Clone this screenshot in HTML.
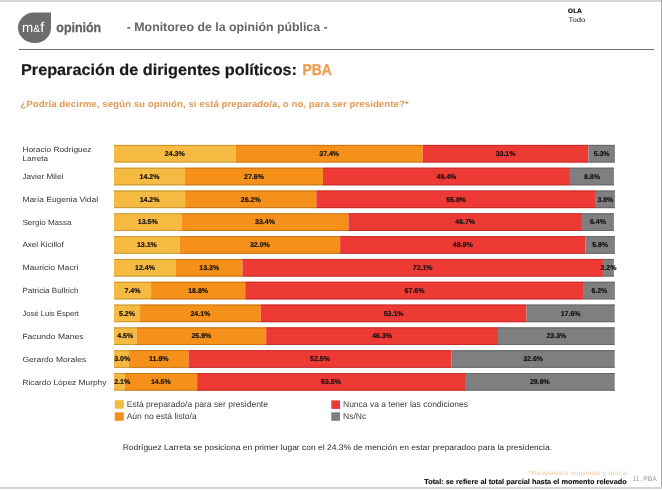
<!DOCTYPE html>
<html><head><meta charset="utf-8"><style>
html,body{margin:0;padding:0;background:#fff;}
body{width:662px;height:491px;overflow:hidden;}
svg{display:block;}
text{font-family:"Liberation Sans",sans-serif;text-rendering:geometricPrecision;}
.n{font-size:7.5px;fill:#363636;}
.d{font-size:7px;font-weight:bold;fill:#141010;stroke:#141010;stroke-width:0.18px;text-anchor:middle;}
.lg{font-size:8.5px;fill:#404040;}
</style></head><body>
<svg width="662" height="491" viewBox="0 0 662 491">
<rect x="0" y="0" width="662" height="491" fill="#fff"/>
<rect x="0" y="0" width="662" height="2" fill="#d6d6d6"/>
<rect x="661" y="0" width="1" height="489" fill="#ababab"/>
<rect x="0" y="487" width="662" height="2" fill="#d4d4d4"/>
<path d="M51,12.5 V27.75 A15.25,15.25 0 0 1 35.75,43 H34.5 A16.5,15.25 0 0 1 18,27.75 A16.5,15.25 0 0 1 34.5,12.5 Z" fill="#6d6d6f"/>
<text y="32.3" font-size="13.4" fill="#fff"><tspan x="21.9">m</tspan><tspan x="33.2" y="32.3" font-size="10.2">&amp;</tspan><tspan x="40.3" y="32.3" font-size="14.2">f</tspan></text>
<text x="56.3" y="32.1" font-size="13.6" font-weight="bold" fill="#636365" stroke="#636365" stroke-width="0.3" textLength="44.9" lengthAdjust="spacingAndGlyphs">opinión</text>
<text x="126.8" y="30.9" font-size="12.2" font-weight="bold" fill="#666" textLength="200.8" lengthAdjust="spacingAndGlyphs">- Monitoreo de la opinión pública -</text>
<text x="567.7" y="12.8" font-size="6.2" font-weight="bold" fill="#111" style="font-family:'DejaVu Sans',sans-serif" textLength="14.2" lengthAdjust="spacingAndGlyphs">OLA</text>
<text x="568.6" y="21.6" font-size="6.6" fill="#222" textLength="16.8" lengthAdjust="spacingAndGlyphs">Todo</text>
<rect x="19" y="49" width="635" height="1" fill="#6f6f6f"/>
<text x="21" y="74.9" font-size="15.7" font-weight="bold" fill="#1a1a1a" stroke="#1a1a1a" stroke-width="0.2" textLength="276" lengthAdjust="spacingAndGlyphs">Preparación de dirigentes políticos:</text>
<text x="302.6" y="74.9" font-size="15.7" font-weight="bold" fill="#EC9C4C" stroke="#EC9C4C" stroke-width="0.25" textLength="29.2" lengthAdjust="spacingAndGlyphs">PBA</text>
<text x="20.3" y="106.7" font-size="9.1" font-weight="bold" fill="#E29A55" textLength="388.4" lengthAdjust="spacingAndGlyphs">¿Podría decirme, según su opinión, si está preparado/a, o no, para ser presidente?*</text>
<rect x="114.00" y="144.90" width="121.60" height="17.6" fill="#F5BA42"/>
<rect x="114.00" y="144.90" width="121.60" height="1" fill="#c89836"/>
<rect x="114.00" y="161.50" width="121.60" height="1" fill="#c89836"/>
<rect x="235.60" y="144.90" width="187.15" height="17.6" fill="#F5911A"/>
<rect x="235.60" y="144.90" width="187.15" height="1" fill="#c87615"/>
<rect x="235.60" y="161.50" width="187.15" height="1" fill="#c87615"/>
<rect x="422.75" y="144.90" width="165.63" height="17.6" fill="#EE3A35"/>
<rect x="422.75" y="144.90" width="165.63" height="1" fill="#c32f2b"/>
<rect x="422.75" y="161.50" width="165.63" height="1" fill="#c32f2b"/>
<rect x="588.38" y="144.90" width="26.52" height="17.6" fill="#7F7F7F"/>
<rect x="588.38" y="144.90" width="26.52" height="1" fill="#686868"/>
<rect x="588.38" y="161.50" width="26.52" height="1" fill="#686868"/>
<text x="174.80" y="155.90" class="d">24.3%</text>
<text x="329.17" y="155.90" class="d">37.4%</text>
<text x="505.56" y="155.90" class="d">33.1%</text>
<text x="601.64" y="155.90" class="d">5.3%</text>
<text x="22.4" y="151.70" class="n" textLength="69.1" lengthAdjust="spacingAndGlyphs">Horacio Rodriguez</text>
<text x="22.4" y="161.00" class="n" textLength="25.6" lengthAdjust="spacingAndGlyphs">Larreta</text>
<rect x="114.00" y="167.71" width="70.99" height="17.6" fill="#F5BA42"/>
<rect x="114.00" y="167.71" width="70.99" height="1" fill="#c89836"/>
<rect x="114.00" y="184.31" width="70.99" height="1" fill="#c89836"/>
<rect x="184.99" y="167.71" width="137.97" height="17.6" fill="#F5911A"/>
<rect x="184.99" y="167.71" width="137.97" height="1" fill="#c87615"/>
<rect x="184.99" y="184.31" width="137.97" height="1" fill="#c87615"/>
<rect x="322.96" y="167.71" width="246.95" height="17.6" fill="#EE3A35"/>
<rect x="322.96" y="167.71" width="246.95" height="1" fill="#c32f2b"/>
<rect x="322.96" y="184.31" width="246.95" height="1" fill="#c32f2b"/>
<rect x="569.91" y="167.71" width="43.99" height="17.6" fill="#7F7F7F"/>
<rect x="569.91" y="167.71" width="43.99" height="1" fill="#686868"/>
<rect x="569.91" y="184.31" width="43.99" height="1" fill="#686868"/>
<text x="149.49" y="178.71" class="d">14.2%</text>
<text x="253.97" y="178.71" class="d">27.6%</text>
<text x="446.43" y="178.71" class="d">49.4%</text>
<text x="591.90" y="178.71" class="d">8.8%</text>
<text x="22.4" y="178.86" class="n" textLength="40.9" lengthAdjust="spacingAndGlyphs">Javier Milei</text>
<rect x="114.00" y="190.52" width="71.13" height="17.6" fill="#F5BA42"/>
<rect x="114.00" y="190.52" width="71.13" height="1" fill="#c89836"/>
<rect x="114.00" y="207.12" width="71.13" height="1" fill="#c89836"/>
<rect x="185.13" y="190.52" width="131.24" height="17.6" fill="#F5911A"/>
<rect x="185.13" y="190.52" width="131.24" height="1" fill="#c87615"/>
<rect x="185.13" y="207.12" width="131.24" height="1" fill="#c87615"/>
<rect x="316.36" y="190.52" width="279.50" height="17.6" fill="#EE3A35"/>
<rect x="316.36" y="190.52" width="279.50" height="1" fill="#c32f2b"/>
<rect x="316.36" y="207.12" width="279.50" height="1" fill="#c32f2b"/>
<rect x="595.87" y="190.52" width="19.03" height="17.6" fill="#7F7F7F"/>
<rect x="595.87" y="190.52" width="19.03" height="1" fill="#686868"/>
<rect x="595.87" y="207.12" width="19.03" height="1" fill="#686868"/>
<text x="149.56" y="201.52" class="d">14.2%</text>
<text x="250.75" y="201.52" class="d">26.2%</text>
<text x="456.11" y="201.52" class="d">55.8%</text>
<text x="605.38" y="201.52" class="d">3.8%</text>
<text x="22.4" y="201.72" class="n" textLength="75.7" lengthAdjust="spacingAndGlyphs">María Eugenia Vidal</text>
<rect x="114.00" y="213.33" width="67.49" height="17.6" fill="#F5BA42"/>
<rect x="114.00" y="213.33" width="67.49" height="1" fill="#c89836"/>
<rect x="114.00" y="229.93" width="67.49" height="1" fill="#c89836"/>
<rect x="181.49" y="213.33" width="166.97" height="17.6" fill="#F5911A"/>
<rect x="181.49" y="213.33" width="166.97" height="1" fill="#c87615"/>
<rect x="181.49" y="229.93" width="166.97" height="1" fill="#c87615"/>
<rect x="348.45" y="213.33" width="233.45" height="17.6" fill="#EE3A35"/>
<rect x="348.45" y="213.33" width="233.45" height="1" fill="#c32f2b"/>
<rect x="348.45" y="229.93" width="233.45" height="1" fill="#c32f2b"/>
<rect x="581.91" y="213.33" width="31.99" height="17.6" fill="#7F7F7F"/>
<rect x="581.91" y="213.33" width="31.99" height="1" fill="#686868"/>
<rect x="581.91" y="229.93" width="31.99" height="1" fill="#686868"/>
<text x="147.74" y="224.33" class="d">13.5%</text>
<text x="264.97" y="224.33" class="d">33.4%</text>
<text x="465.18" y="224.33" class="d">46.7%</text>
<text x="597.90" y="224.33" class="d">6.4%</text>
<text x="22.4" y="224.58" class="n" textLength="49.2" lengthAdjust="spacingAndGlyphs">Sergio Massa</text>
<rect x="114.00" y="236.14" width="65.68" height="17.6" fill="#F5BA42"/>
<rect x="114.00" y="236.14" width="65.68" height="1" fill="#c89836"/>
<rect x="114.00" y="252.74" width="65.68" height="1" fill="#c89836"/>
<rect x="179.68" y="236.14" width="160.45" height="17.6" fill="#F5911A"/>
<rect x="179.68" y="236.14" width="160.45" height="1" fill="#c87615"/>
<rect x="179.68" y="252.74" width="160.45" height="1" fill="#c87615"/>
<rect x="340.13" y="236.14" width="245.19" height="17.6" fill="#EE3A35"/>
<rect x="340.13" y="236.14" width="245.19" height="1" fill="#c32f2b"/>
<rect x="340.13" y="252.74" width="245.19" height="1" fill="#c32f2b"/>
<rect x="585.32" y="236.14" width="29.58" height="17.6" fill="#7F7F7F"/>
<rect x="585.32" y="236.14" width="29.58" height="1" fill="#686868"/>
<rect x="585.32" y="252.74" width="29.58" height="1" fill="#686868"/>
<text x="146.84" y="247.14" class="d">13.1%</text>
<text x="259.91" y="247.14" class="d">32.0%</text>
<text x="462.72" y="247.14" class="d">48.9%</text>
<text x="600.11" y="247.14" class="d">5.9%</text>
<text x="22.4" y="247.44" class="n" textLength="41.5" lengthAdjust="spacingAndGlyphs">Axel Kicillof</text>
<rect x="114.00" y="258.95" width="61.99" height="17.6" fill="#F5BA42"/>
<rect x="114.00" y="258.95" width="61.99" height="1" fill="#c89836"/>
<rect x="114.00" y="275.55" width="61.99" height="1" fill="#c89836"/>
<rect x="175.99" y="258.95" width="66.49" height="17.6" fill="#F5911A"/>
<rect x="175.99" y="258.95" width="66.49" height="1" fill="#c87615"/>
<rect x="175.99" y="275.55" width="66.49" height="1" fill="#c87615"/>
<rect x="242.47" y="258.95" width="360.43" height="17.6" fill="#EE3A35"/>
<rect x="242.47" y="258.95" width="360.43" height="1" fill="#c32f2b"/>
<rect x="242.47" y="275.55" width="360.43" height="1" fill="#c32f2b"/>
<rect x="602.90" y="258.95" width="11.00" height="17.6" fill="#7F7F7F"/>
<rect x="602.90" y="258.95" width="11.00" height="1" fill="#686868"/>
<rect x="602.90" y="275.55" width="11.00" height="1" fill="#686868"/>
<text x="144.99" y="269.95" class="d">12.4%</text>
<text x="209.23" y="269.95" class="d">13.3%</text>
<text x="422.69" y="269.95" class="d">72.1%</text>
<text x="608.40" y="269.95" class="d">2.2%</text>
<text x="22.4" y="270.30" class="n" textLength="56.1" lengthAdjust="spacingAndGlyphs">Mauricio Macri</text>
<rect x="114.00" y="281.76" width="37.07" height="17.6" fill="#F5BA42"/>
<rect x="114.00" y="281.76" width="37.07" height="1" fill="#c89836"/>
<rect x="114.00" y="298.36" width="37.07" height="1" fill="#c89836"/>
<rect x="151.07" y="281.76" width="94.17" height="17.6" fill="#F5911A"/>
<rect x="151.07" y="281.76" width="94.17" height="1" fill="#c87615"/>
<rect x="151.07" y="298.36" width="94.17" height="1" fill="#c87615"/>
<rect x="245.24" y="281.76" width="338.61" height="17.6" fill="#EE3A35"/>
<rect x="245.24" y="281.76" width="338.61" height="1" fill="#c32f2b"/>
<rect x="245.24" y="298.36" width="338.61" height="1" fill="#c32f2b"/>
<rect x="583.84" y="281.76" width="31.06" height="17.6" fill="#7F7F7F"/>
<rect x="583.84" y="281.76" width="31.06" height="1" fill="#686868"/>
<rect x="583.84" y="298.36" width="31.06" height="1" fill="#686868"/>
<text x="132.53" y="292.76" class="d">7.4%</text>
<text x="198.15" y="292.76" class="d">18.8%</text>
<text x="414.54" y="292.76" class="d">67.6%</text>
<text x="599.37" y="292.76" class="d">6.2%</text>
<text x="22.4" y="293.16" class="n" textLength="56.1" lengthAdjust="spacingAndGlyphs">Patricia Bullrich</text>
<rect x="114.00" y="304.57" width="26.04" height="17.6" fill="#F5BA42"/>
<rect x="114.00" y="304.57" width="26.04" height="1" fill="#c89836"/>
<rect x="114.00" y="321.17" width="26.04" height="1" fill="#c89836"/>
<rect x="140.04" y="304.57" width="120.67" height="17.6" fill="#F5911A"/>
<rect x="140.04" y="304.57" width="120.67" height="1" fill="#c87615"/>
<rect x="140.04" y="321.17" width="120.67" height="1" fill="#c87615"/>
<rect x="260.71" y="304.57" width="265.87" height="17.6" fill="#EE3A35"/>
<rect x="260.71" y="304.57" width="265.87" height="1" fill="#c32f2b"/>
<rect x="260.71" y="321.17" width="265.87" height="1" fill="#c32f2b"/>
<rect x="526.58" y="304.57" width="88.12" height="17.6" fill="#7F7F7F"/>
<rect x="526.58" y="304.57" width="88.12" height="1" fill="#686868"/>
<rect x="526.58" y="321.17" width="88.12" height="1" fill="#686868"/>
<text x="127.02" y="315.57" class="d">5.2%</text>
<text x="200.37" y="315.57" class="d">24.1%</text>
<text x="393.64" y="315.57" class="d">53.1%</text>
<text x="570.64" y="315.57" class="d">17.6%</text>
<text x="22.4" y="316.02" class="n" textLength="56.5" lengthAdjust="spacingAndGlyphs">José Luis Espert</text>
<rect x="114.00" y="327.38" width="22.53" height="17.6" fill="#F5BA42"/>
<rect x="114.00" y="327.38" width="22.53" height="1" fill="#c89836"/>
<rect x="114.00" y="343.98" width="22.53" height="1" fill="#c89836"/>
<rect x="136.53" y="327.38" width="129.68" height="17.6" fill="#F5911A"/>
<rect x="136.53" y="327.38" width="129.68" height="1" fill="#c87615"/>
<rect x="136.53" y="343.98" width="129.68" height="1" fill="#c87615"/>
<rect x="266.21" y="327.38" width="231.82" height="17.6" fill="#EE3A35"/>
<rect x="266.21" y="327.38" width="231.82" height="1" fill="#c32f2b"/>
<rect x="266.21" y="343.98" width="231.82" height="1" fill="#c32f2b"/>
<rect x="498.04" y="327.38" width="116.66" height="17.6" fill="#7F7F7F"/>
<rect x="498.04" y="327.38" width="116.66" height="1" fill="#686868"/>
<rect x="498.04" y="343.98" width="116.66" height="1" fill="#686868"/>
<text x="125.27" y="338.38" class="d">4.5%</text>
<text x="201.37" y="338.38" class="d">25.9%</text>
<text x="382.12" y="338.38" class="d">46.3%</text>
<text x="556.37" y="338.38" class="d">23.3%</text>
<text x="22.4" y="338.88" class="n" textLength="61.1" lengthAdjust="spacingAndGlyphs">Facundo Manes</text>
<rect x="114.00" y="350.19" width="15.02" height="17.6" fill="#F5BA42"/>
<rect x="114.00" y="350.19" width="15.02" height="1" fill="#c89836"/>
<rect x="114.00" y="366.79" width="15.02" height="1" fill="#c89836"/>
<rect x="129.02" y="350.19" width="59.58" height="17.6" fill="#F5911A"/>
<rect x="129.02" y="350.19" width="59.58" height="1" fill="#c87615"/>
<rect x="129.02" y="366.79" width="59.58" height="1" fill="#c87615"/>
<rect x="188.60" y="350.19" width="262.87" height="17.6" fill="#EE3A35"/>
<rect x="188.60" y="350.19" width="262.87" height="1" fill="#c32f2b"/>
<rect x="188.60" y="366.79" width="262.87" height="1" fill="#c32f2b"/>
<rect x="451.47" y="350.19" width="163.23" height="17.6" fill="#7F7F7F"/>
<rect x="451.47" y="350.19" width="163.23" height="1" fill="#686868"/>
<rect x="451.47" y="366.79" width="163.23" height="1" fill="#686868"/>
<text x="122.15" y="361.19" class="d">3.0%</text>
<text x="158.81" y="361.19" class="d">11.9%</text>
<text x="320.04" y="361.19" class="d">52.5%</text>
<text x="533.09" y="361.19" class="d">32.6%</text>
<text x="22.4" y="361.74" class="n" textLength="63.8" lengthAdjust="spacingAndGlyphs">Gerardo Morales</text>
<rect x="114.00" y="373.00" width="10.51" height="17.6" fill="#F5BA42"/>
<rect x="114.00" y="373.00" width="10.51" height="1" fill="#c89836"/>
<rect x="114.00" y="389.60" width="10.51" height="1" fill="#c89836"/>
<rect x="124.51" y="373.00" width="72.60" height="17.6" fill="#F5911A"/>
<rect x="124.51" y="373.00" width="72.60" height="1" fill="#c87615"/>
<rect x="124.51" y="389.60" width="72.60" height="1" fill="#c87615"/>
<rect x="197.12" y="373.00" width="267.87" height="17.6" fill="#EE3A35"/>
<rect x="197.12" y="373.00" width="267.87" height="1" fill="#c32f2b"/>
<rect x="197.12" y="389.60" width="267.87" height="1" fill="#c32f2b"/>
<rect x="464.99" y="373.00" width="149.71" height="17.6" fill="#7F7F7F"/>
<rect x="464.99" y="373.00" width="149.71" height="1" fill="#686868"/>
<rect x="464.99" y="389.60" width="149.71" height="1" fill="#686868"/>
<text x="122.15" y="384.00" class="d">2.1%</text>
<text x="160.82" y="384.00" class="d">14.5%</text>
<text x="331.05" y="384.00" class="d">53.5%</text>
<text x="539.85" y="384.00" class="d">29.9%</text>
<text x="22.4" y="384.60" class="n" textLength="84.0" lengthAdjust="spacingAndGlyphs">Ricardo López Murphy</text>
<rect x="114.8" y="400.2" width="9" height="8.5" fill="#F5BA42"/>
<rect x="114.8" y="412.3" width="9" height="8.5" fill="#F5911A"/>
<rect x="331.3" y="400.4" width="8.7" height="8.5" fill="#EE3A35"/>
<rect x="331.3" y="412.3" width="8.7" height="8.5" fill="#7F7F7F"/>
<text x="126.7" y="406.7" class="lg" textLength="141.3" lengthAdjust="spacingAndGlyphs">Está preparado/a para ser presidente</text>
<text x="126.7" y="418.5" class="lg">Aún no está listo/a</text>
<text x="343" y="406.9" class="lg" textLength="125" lengthAdjust="spacingAndGlyphs">Nunca va a tener las condiciones</text>
<text x="343" y="418.5" class="lg">Ns/Nc</text>
<text x="122.7" y="450" font-size="8" fill="#2a2a2a" textLength="429.3" lengthAdjust="spacingAndGlyphs">Rodríguez Larreta se posiciona en primer lugar con el 24.3% de mención en estar preparadoo para la presidencia.</text>
<text x="528.3" y="474.7" font-size="6.3" fill="#EFCDA8" textLength="98.5" lengthAdjust="spacingAndGlyphs">*Respuesta sugerida y única</text>
<text x="424.2" y="484.1" font-size="7.2" font-weight="bold" fill="#111" stroke="#111" stroke-width="0.15" textLength="202.6" lengthAdjust="spacingAndGlyphs">Total: se refiere al total parcial hasta el momento relevado</text>
<text x="632.6" y="480.8" font-size="7" fill="#9a9a9a" textLength="24.2" lengthAdjust="spacingAndGlyphs">11. PBA</text>
</svg>
</body></html>
